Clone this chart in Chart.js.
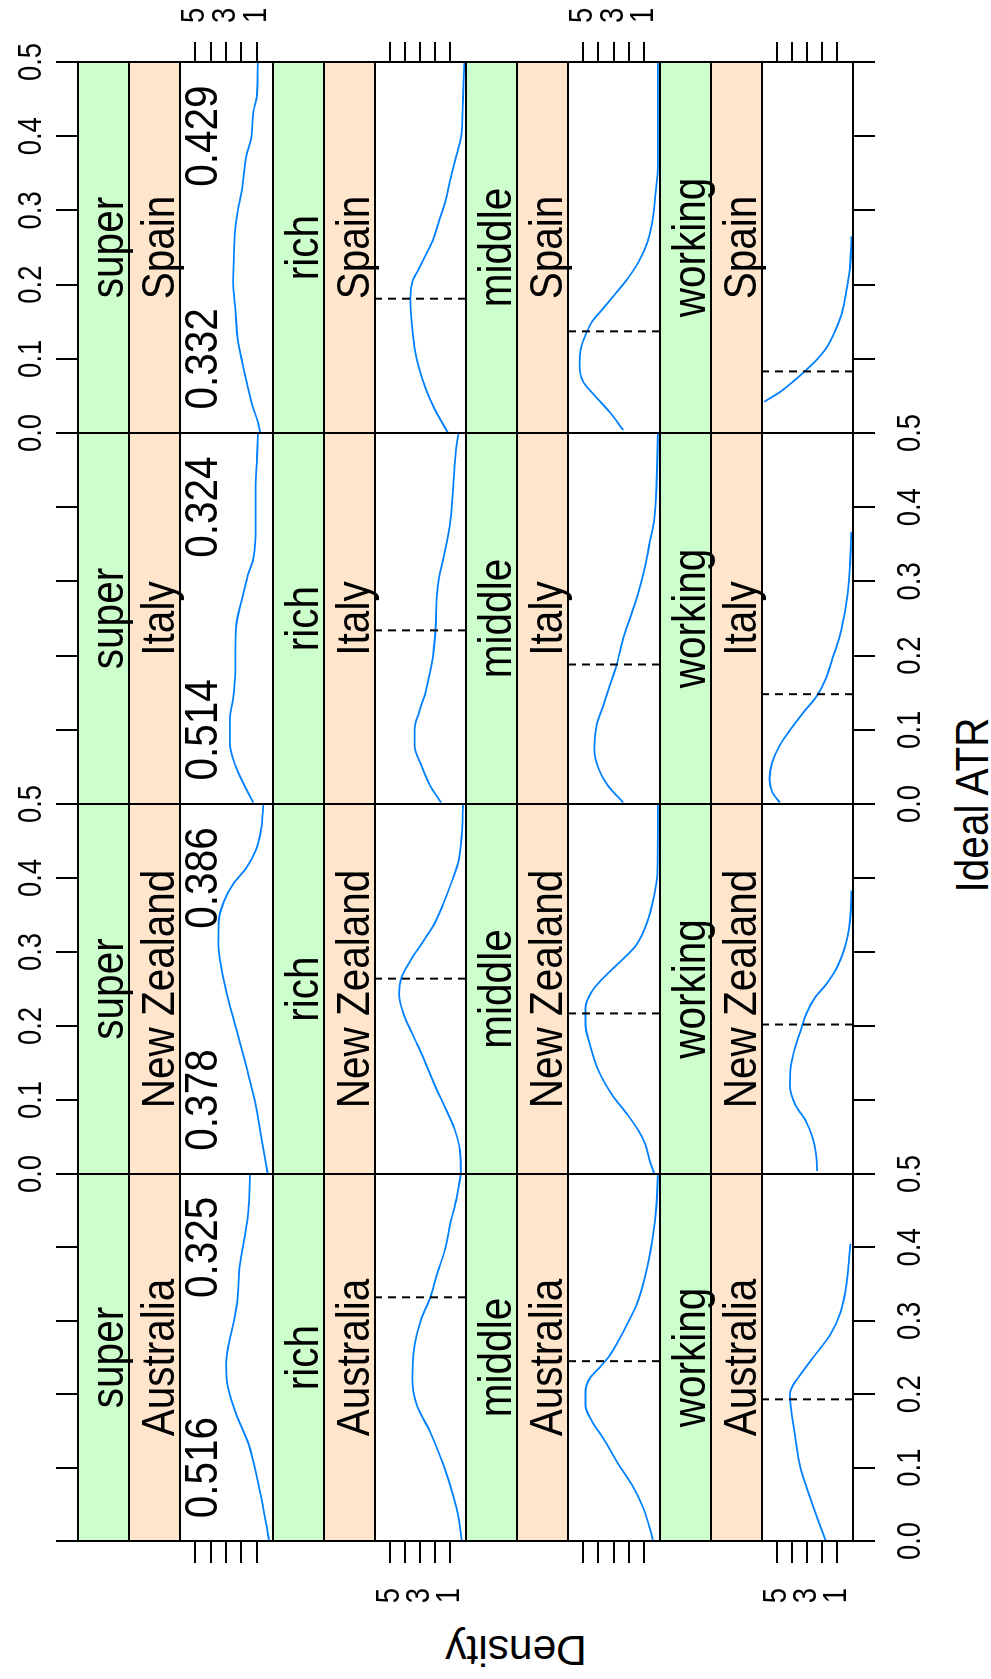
<!DOCTYPE html>
<html>
<head>
<meta charset="utf-8" />
<title>Ideal ATR density by class and country</title>
<script src="https://cdn.jsdelivr.net/npm/chart.js"></script>
<style>
  html, body { margin: 0; padding: 0; background: #fff; width: 991px; height: 1679px; overflow: hidden; }
  /* the lattice is laid out upright (1679 x 991) and turned a quarter turn to the left */
  #figure { position: absolute; left: 0; top: 0; width: 1679px; height: 991px;
            transform-origin: 0 0; transform: translate(0px, 1679px) rotate(-90deg); }
  #figure canvas { position: absolute; }
  .axis-title { position: absolute; font-family: "Liberation Sans", Arial, sans-serif; color: #000;
                white-space: nowrap; text-align: center; line-height: 40px; height: 40px; }
  #xlab { left: 674px; top: 954px; width: 400px; font-size: 40.5px; transform-origin: 50% 34px; transform: scaleY(1.14); }
  #ylab { left: -121px; top: 496px; width: 300px; font-size: 42.5px; transform: rotate(-90deg); }
</style>
</head>
<body>
<div id="figure">
  <div id="xlab" class="axis-title">Ideal ATR</div>
  <div id="ylab" class="axis-title">Density</div>
</div>
<script>
// panels: rows = class, columns = country
const classes = ['super', 'rich', 'middle', 'working'];
const countries = ['Australia', 'New Zealand', 'Italy', 'Spain'];

const atrTicks = [0, 0.1, 0.2, 0.3, 0.4, 0.5];
const atrTickLabels = ['0.0', '0.1', '0.2', '0.3', '0.4', '0.5'];
const densityTicks = [1, 2, 3, 4, 5];
const densityTickLabels = ['1', '', '3', '', '5'];

// numbers printed in the "super" panels (left one at 0.1, right one at 0.4)
const superLabelLow = ['0.516', '0.378', '0.514', '0.332'];
const superLabelHigh = ['0.325', '0.386', '0.324', '0.429'];

// dashed reference lines, one per country
const richMedian = [0.332, 0.264, 0.234, 0.181];
const middleMedian = [0.245, 0.217, 0.188, 0.137];
const workingMedian = [0.193, 0.202, 0.148, 0.083];

// density curves
const australiaSuperAtr = [0, 0.035, 0.081, 0.131, 0.176, 0.217, 0.242, 0.267, 0.299, 0.331, 0.376, 0.412, 0.449, 0.5];
const australiaSuperDen = [0.2, 0.5, 0.94, 1.52, 2.4, 2.95, 3.0, 2.84, 2.5, 2.25, 2.11, 1.81, 1.55, 1.45];
const australiaRichAtr = [0, 0.031, 0.067, 0.104, 0.149, 0.185, 0.222, 0.267, 0.303, 0.331, 0.362, 0.399, 0.43, 0.467, 0.5];
const australiaRichDen = [0.23, 0.44, 0.88, 1.46, 2.34, 3.22, 3.51, 3.36, 2.92, 2.34, 1.9, 1.32, 1.02, 0.58, 0.29];
const australiaMiddleAtr = [0, 0.017, 0.045, 0.076, 0.104, 0.14, 0.163, 0.185, 0.203, 0.222, 0.235, 0.253, 0.285, 0.322, 0.362, 0.408, 0.458, 0.5];
const australiaMiddleDen = [0.41, 0.61, 1.05, 1.78, 2.66, 3.68, 4.42, 4.85, 4.85, 4.56, 3.98, 3.25, 2.37, 1.49, 0.91, 0.47, 0.18, 0.09];
const australiaWorkingAtr = [0, 0.03, 0.065, 0.1, 0.15, 0.185, 0.2, 0.212, 0.225, 0.25, 0.28, 0.31, 0.34, 0.37, 0.405];
const australiaWorkingDen = [1.75, 2.3, 2.9, 3.45, 3.85, 4.1, 4.15, 3.95, 3.5, 2.6, 1.5, 0.8, 0.45, 0.27, 0.13];

const newZealandSuperAtr = [0, 0.049, 0.094, 0.144, 0.189, 0.234, 0.274, 0.31, 0.342, 0.369, 0.392, 0.414, 0.437, 0.468, 0.5];
const newZealandSuperDen = [0.29, 0.7, 1.08, 1.67, 2.25, 2.84, 3.27, 3.51, 3.48, 3.13, 2.54, 1.67, 1.08, 0.7, 0.58];
const newZealandRichAtr = [0, 0.031, 0.062, 0.089, 0.121, 0.157, 0.189, 0.216, 0.243, 0.265, 0.288, 0.315, 0.338, 0.365, 0.396, 0.423, 0.459, 0.5];
const newZealandRichDen = [0.29, 0.35, 0.73, 1.32, 2.05, 2.78, 3.51, 4.09, 4.39, 4.24, 3.65, 2.78, 2.05, 1.46, 0.88, 0.44, 0.23, 0.15];
const newZealandMiddleAtr = [0, 0.017, 0.04, 0.058, 0.08, 0.107, 0.139, 0.175, 0.202, 0.225, 0.247, 0.265, 0.288, 0.31, 0.342, 0.378, 0.405, 0.5];
const newZealandMiddleDen = [0.32, 0.61, 0.91, 1.35, 2.08, 3.1, 3.98, 4.56, 4.85, 4.85, 4.42, 3.68, 2.51, 1.49, 0.76, 0.32, 0.12, 0.09];
const newZealandWorkingAtr = [0.004, 0.026, 0.049, 0.071, 0.094, 0.121, 0.144, 0.171, 0.198, 0.216, 0.238, 0.256, 0.279, 0.31, 0.342, 0.383];
const newZealandWorkingDen = [2.34, 2.4, 2.63, 3.07, 3.8, 4.15, 4.09, 3.8, 3.36, 3.07, 2.49, 1.75, 1.02, 0.44, 0.15, 0.06];

const italySuperAtr = [0.002, 0.025, 0.052, 0.083, 0.115, 0.142, 0.178, 0.205, 0.241, 0.277, 0.309, 0.331, 0.376, 0.43, 0.466, 0.5];
const italySuperDen = [1.23, 1.81, 2.4, 2.75, 2.75, 2.54, 2.4, 2.4, 2.34, 1.96, 1.58, 1.23, 1.08, 1.08, 0.99, 0.94];
const italyRichAtr = [0.002, 0.025, 0.052, 0.079, 0.101, 0.124, 0.151, 0.178, 0.205, 0.241, 0.277, 0.304, 0.331, 0.376, 0.421, 0.484, 0.5];
const italyRichDen = [1.61, 2.34, 2.92, 3.36, 3.36, 3.07, 2.63, 2.34, 2.11, 1.96, 1.9, 1.75, 1.46, 1.02, 0.82, 0.58, 0.44];
const italyMiddleAtr = [0.002, 0.025, 0.047, 0.074, 0.106, 0.133, 0.16, 0.187, 0.223, 0.259, 0.286, 0.322, 0.354, 0.385, 0.43, 0.5];
const italyMiddleDen = [2.37, 3.39, 3.98, 4.27, 4.12, 3.68, 3.25, 2.81, 2.37, 1.78, 1.35, 0.91, 0.61, 0.32, 0.18, 0.09];
const italyWorkingAtr = [0.002, 0.016, 0.034, 0.056, 0.079, 0.101, 0.124, 0.146, 0.169, 0.196, 0.223, 0.25, 0.286, 0.322, 0.367];
const italyWorkingDen = [4.82, 5.32, 5.5, 5.32, 4.82, 4.09, 3.22, 2.34, 1.75, 1.32, 0.88, 0.58, 0.29, 0.15, 0.06];

const spainSuperAtr = [0.001, 0.015, 0.037, 0.069, 0.096, 0.127, 0.168, 0.204, 0.24, 0.276, 0.298, 0.33, 0.375, 0.397, 0.433, 0.456, 0.5];
const spainSuperDen = [0.79, 0.94, 1.29, 1.67, 1.96, 2.25, 2.4, 2.54, 2.49, 2.4, 2.25, 1.96, 1.67, 1.37, 1.23, 0.99, 0.94];
const spainRichAtr = [0.001, 0.033, 0.06, 0.087, 0.114, 0.15, 0.181, 0.204, 0.222, 0.24, 0.258, 0.285, 0.312, 0.339, 0.375, 0.397, 0.451, 0.5];
const spainRichDen = [1.17, 2.05, 2.63, 3.07, 3.36, 3.57, 3.65, 3.51, 3.07, 2.63, 2.19, 1.75, 1.32, 1.02, 0.58, 0.29, 0.15, 0.06];
const spainMiddleAtr = [0.004, 0.028, 0.051, 0.069, 0.091, 0.114, 0.132, 0.15, 0.168, 0.186, 0.208, 0.231, 0.258, 0.294, 0.321, 0.361, 0.5];
const spainMiddleDen = [2.37, 3.25, 4.27, 5.0, 5.23, 5.15, 4.85, 4.42, 3.68, 2.95, 2.08, 1.35, 0.76, 0.38, 0.26, 0.09, 0.09];
const spainWorkingAtr = [0.042, 0.044, 0.055, 0.069, 0.082, 0.096, 0.114, 0.136, 0.159, 0.186, 0.222, 0.265];
const spainWorkingDen = [5.85, 5.7, 4.82, 3.95, 3.22, 2.49, 1.75, 1.17, 0.73, 0.44, 0.15, 0.06];

// lookup tables [class][country]
const curveAtr = [
  [australiaSuperAtr, newZealandSuperAtr, italySuperAtr, spainSuperAtr],
  [australiaRichAtr, newZealandRichAtr, italyRichAtr, spainRichAtr],
  [australiaMiddleAtr, newZealandMiddleAtr, italyMiddleAtr, spainMiddleAtr],
  [australiaWorkingAtr, newZealandWorkingAtr, italyWorkingAtr, spainWorkingAtr]
];
const curveDen = [
  [australiaSuperDen, newZealandSuperDen, italySuperDen, spainSuperDen],
  [australiaRichDen, newZealandRichDen, italyRichDen, spainRichDen],
  [australiaMiddleDen, newZealandMiddleDen, italyMiddleDen, spainMiddleDen],
  [australiaWorkingDen, newZealandWorkingDen, italyWorkingDen, spainWorkingDen]
];
const medians = [null, richMedian, middleMedian, workingMedian];

// layout (upright coordinates, before the quarter turn)
const colEdges = [138, 505, 875, 1246, 1617];
const rowEdges = [78, 273, 466, 660, 853];
const STRIP = 51;
const MARGIN = 120;
const TICK = 22;
const DEN_MIN = -0.05, DEN_MAX = 6.0;
const FONT = '"Liberation Sans", Arial, sans-serif';

function label(ctx, text, x, y, size, align, baseline, stretch) {
  ctx.save();
  ctx.translate(x, y);
  ctx.scale(1, stretch);
  ctx.font = size + 'px ' + FONT;
  ctx.fillStyle = '#000';
  ctx.textAlign = align;
  ctx.textBaseline = baseline;
  ctx.fillText(text, 0, 0);
  ctx.restore();
}

// strips, frame, axes and printed numbers of one lattice panel
function latticePanel(r, c) {
  return {
    id: 'latticePanel',
    afterDraw(chart) {
      const { ctx, chartArea: a, scales: { x, y } } = chart;
      const cellTop = a.top - 2 * STRIP;
      const w = a.right - a.left;
      const mid = (a.left + a.right) / 2;
      ctx.save();
      ctx.fillStyle = '#ccffcc';
      ctx.fillRect(a.left, cellTop, w, STRIP);
      ctx.fillStyle = '#ffe5cc';
      ctx.fillRect(a.left, cellTop + STRIP, w, STRIP);
      label(ctx, classes[r], mid, cellTop + STRIP - 6, 40.5, 'center', 'alphabetic', 1.14);
      label(ctx, countries[c], mid, a.top - 6, 40.5, 'center', 'alphabetic', 1.14);

      if (r === 0) {
        label(ctx, superLabelLow[c], x.getPixelForValue(0.1), a.top + 37, 40.5, 'center', 'alphabetic', 1.14);
        label(ctx, superLabelHigh[c], x.getPixelForValue(0.4), a.top + 37, 40.5, 'center', 'alphabetic', 1.14);
      }

      ctx.strokeStyle = '#000';
      ctx.lineWidth = 2;
      ctx.strokeRect(a.left, cellTop, w, STRIP);
      ctx.strokeRect(a.left, cellTop + STRIP, w, STRIP);
      ctx.strokeRect(a.left, a.top, w, a.bottom - a.top);

      ctx.beginPath();
      atrTicks.forEach(v => {
        const px = Math.round(x.getPixelForValue(v));
        if (r === 0) { ctx.moveTo(px, cellTop); ctx.lineTo(px, cellTop - TICK); }
        if (r === 3) { ctx.moveTo(px, a.bottom); ctx.lineTo(px, a.bottom + TICK); }
      });
      densityTicks.forEach(v => {
        const py = Math.round(y.getPixelForValue(v));
        if (c === 0) { ctx.moveTo(a.left, py); ctx.lineTo(a.left - TICK, py); }
        if (c === 3) { ctx.moveTo(a.right, py); ctx.lineTo(a.right + 20, py); }
      });
      ctx.stroke();

      // alternating tick labels, as lattice does
      atrTicks.forEach((v, i) => {
        const px = x.getPixelForValue(v);
        if (r === 0 && c % 2 === 1) label(ctx, atrTickLabels[i], px, cellTop - 37, 27.5, 'center', 'alphabetic', 1.2);
        if (r === 3 && c % 2 === 0) label(ctx, atrTickLabels[i], px, a.bottom + 67, 27.5, 'center', 'alphabetic', 1.2);
      });
      densityTicks.forEach((v, i) => {
        const py = y.getPixelForValue(v);
        if (c === 0 && r % 2 === 1) label(ctx, densityTickLabels[i], a.left - 47, py, 27.5, 'right', 'middle', 1.2);
        if (c === 3 && r % 2 === 0) label(ctx, densityTickLabels[i], a.right + 39, py, 27.5, 'left', 'middle', 1.2);
      });
      ctx.restore();
    }
  };
}

const figure = document.getElementById('figure');

classes.forEach((cls, r) => {
  countries.forEach((country, c) => {
    const w = colEdges[c + 1] - colEdges[c] + 2 * MARGIN;
    const h = rowEdges[r + 1] - rowEdges[r] + 2 * MARGIN;
    const canvas = document.createElement('canvas');
    canvas.width = w;
    canvas.height = h;
    canvas.style.left = (colEdges[c] - MARGIN) + 'px';
    canvas.style.top = (rowEdges[r] - MARGIN) + 'px';
    canvas.style.width = w + 'px';
    canvas.style.height = h + 'px';
    figure.appendChild(canvas);

    const datasets = [];
    if (medians[r]) {
      const m = medians[r][c];
      datasets.push({
        data: [{ x: m, y: DEN_MIN }, { x: m, y: DEN_MAX }],
        borderColor: '#000000',
        borderWidth: 2,
        borderDash: [8, 6],
        pointRadius: 0,
        showLine: true
      });
    }
    datasets.push({
      data: curveAtr[r][c].map((v, i) => ({ x: v, y: curveDen[r][c][i] })),
      borderColor: '#0080ff',
      borderWidth: 1.8,
      pointRadius: 0,
      showLine: true,
      cubicInterpolationMode: 'monotone'
    });

    new Chart(canvas, {
      type: 'scatter',
      data: { datasets: datasets },
      options: {
        responsive: false,
        animation: false,
        devicePixelRatio: 1,
        events: [],
        layout: { padding: { left: MARGIN, right: MARGIN, top: MARGIN + 2 * STRIP, bottom: MARGIN } },
        scales: {
          x: { type: 'linear', min: 0, max: 0.5, display: false },
          y: { type: 'linear', min: DEN_MIN, max: DEN_MAX, display: false }
        },
        plugins: { legend: { display: false }, tooltip: { enabled: false } }
      },
      plugins: [latticePanel(r, c)]
    });
  });
});
</script>
</body>
</html>
